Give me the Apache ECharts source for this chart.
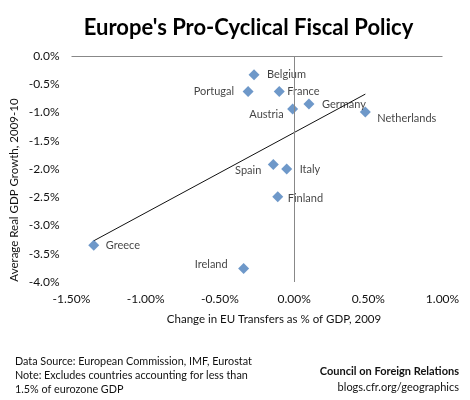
<!DOCTYPE html>
<html>
<head>
<meta charset="utf-8">
<script src="https://cdn.jsdelivr.net/npm/echarts@6/dist/echarts.min.js"></script>
<style>
  html, body { margin: 0; padding: 0; background: #fff; }
  #chart { width: 470px; height: 400px; }
</style>
</head>
<body>
<div id="chart"></div>
<script>
// countries and their values
var countries = ['Belgium', 'Portugal', 'France', 'Austria', 'Germany', 'Netherlands',
  'Spain', 'Italy', 'Finland', 'Greece', 'Ireland'];
// change in EU transfers as % of GDP, 2009
var transfers = [-0.27, -0.31, -0.10, -0.01, 0.10, 0.48, -0.14, -0.05, -0.11, -1.35, -0.34];
// average real GDP growth 2009-10, %
var growth = [-0.33, -0.63, -0.63, -0.94, -0.85, -0.99, -1.92, -2.00, -2.49, -3.35, -3.76];

var xTicks = [-1.5, -1.0, -0.5, 0.0, 0.5, 1.0];
var yTicks = [-4.0, -3.5, -3.0, -2.5, -2.0, -1.5, -1.0, -0.5, 0.0];

var FONT = 'Lato, "Open Sans", sans-serif';

// where each label sits: side, gap from the marker centre, vertical shift
var labelPlace = {
  Belgium: ['right', 13, 0], Portugal: ['left', 14, 0], France: ['right', 8, 0],
  Austria: ['left', 9, 5], Germany: ['right', 13, 0], Netherlands: ['right', 12, 7],
  Spain: ['left', 12, 6], Italy: ['right', 13, 0], Finland: ['right', 10, 2],
  Greece: ['right', 12, 0], Ireland: ['left', 16, -4]
};

// least squares trend line, drawn across the range of the data
function trend(xs, ys) {
  var n = xs.length, mx = 0, my = 0;
  for (var i = 0; i < n; i++) { mx += xs[i]; my += ys[i]; }
  mx /= n; my /= n;
  var sxy = 0, sxx = 0;
  for (i = 0; i < n; i++) {
    sxy += (xs[i] - mx) * (ys[i] - my);
    sxx += (xs[i] - mx) * (xs[i] - mx);
  }
  var b = sxy / sxx, a = my - b * mx;
  var lo = Math.min.apply(null, xs), hi = Math.max.apply(null, xs);
  return [[lo, a + b * lo], [hi, a + b * hi]];
}

var points = countries.map(function (name, i) {
  var p = labelPlace[name];
  var dx = p[1] - 10.5;
  return {
    name: name,
    value: [transfers[i], growth[i]],
    label: { position: p[0], offset: [p[0] === 'left' ? -dx : dx, p[2]] }
  };
});

var chart = echarts.init(document.getElementById('chart'));
chart.setOption({
  animation: false,
  backgroundColor: '#fff',
  title: {
    text: "Europe's Pro-Cyclical Fiscal Policy",
    left: 243.5, top: 12, textAlign: 'center',
    textStyle: { fontFamily: FONT, fontSize: 22, fontWeight: 'bold', color: '#000' }
  },
  grid: { left: 71.5, right: 27.5, top: 56, bottom: 118 },
  xAxis: {
    type: 'value', min: xTicks[0], max: xTicks[xTicks.length - 1], interval: 0.5,
    axisLine: { show: false }, axisTick: { show: false }, splitLine: { show: false },
    axisLabel: {
      margin: 11, fontFamily: FONT, fontSize: 12, color: '#111',
      formatter: function (v) { return v.toFixed(2) + '%'; }
    }
  },
  yAxis: {
    type: 'value', min: yTicks[0], max: yTicks[yTicks.length - 1], interval: 0.5,
    axisLine: { show: false }, axisTick: { show: false }, splitLine: { show: false },
    axisLabel: {
      margin: 12, fontFamily: FONT, fontSize: 12, color: '#111',
      formatter: function (v) { return v.toFixed(1) + '%'; }
    }
  },
  series: [
    {
      type: 'line',
      data: trend(transfers, growth),
      showSymbol: false, silent: true,
      lineStyle: { color: '#111', width: 1 },
      z: 1
    },
    {
      type: 'scatter',
      symbol: 'diamond', symbolSize: 11,
      itemStyle: { color: '#4A7EBB' },
      label: {
        show: true, formatter: '{b}',
        fontFamily: FONT, fontSize: 11, color: '#111'
      },
      data: points,
      // axis lines crossing at zero
      markLine: {
        silent: true, symbol: 'none', label: { show: false },
        lineStyle: { color: '#888', width: 1, type: 'solid' },
        data: [{ xAxis: 0 }, { yAxis: 0 }]
      },
      z: 3
    }
  ],
  graphic: [
    {
      type: 'text', x: 14, y: 190, rotation: Math.PI / 2,
      style: {
        text: 'Average Real GDP Growth, 2009-10', align: 'center', verticalAlign: 'middle',
        font: '11.5px ' + FONT, fill: '#111'
      }
    },
    {
      type: 'text', x: 274, y: 319,
      style: {
        text: 'Change in EU Transfers as % of GDP, 2009', align: 'center', verticalAlign: 'middle',
        font: '11.5px ' + FONT, fill: '#111'
      }
    },
    {
      type: 'text', x: 15, y: 375.5,
      style: {
        text: 'Data Source: European Commission, IMF, Eurostat\nNote: Excludes countries accounting for less than\n1.5% of eurozone GDP',
        verticalAlign: 'middle', lineHeight: 13.7, font: '10.8px ' + FONT, fill: '#111'
      }
    },
    {
      type: 'text', x: 459, y: 371,
      style: {
        text: 'Council on Foreign Relations', align: 'right', verticalAlign: 'middle',
        font: 'bold 11px ' + FONT, fill: '#111'
      }
    },
    {
      type: 'text', x: 459, y: 387,
      style: {
        text: 'blogs.cfr.org/geographics', align: 'right', verticalAlign: 'middle',
        font: '11px ' + FONT, fill: '#111'
      }
    }
  ]
});
</script>
</body>
</html>
